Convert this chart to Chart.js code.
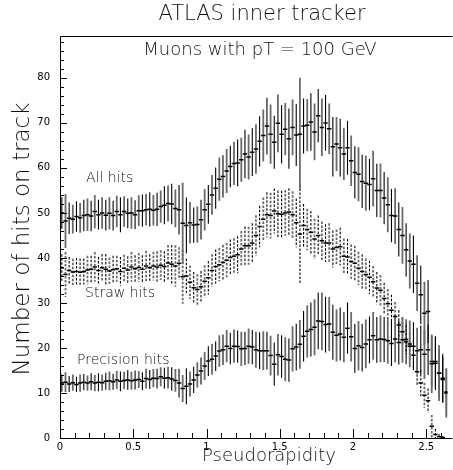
<!DOCTYPE html>
<html>
<head>
<meta charset="utf-8">
<script src="https://cdn.jsdelivr.net/npm/chart.js@4.4.1/dist/chart.umd.min.js"></script>
<style>
  html, body { margin: 0; padding: 0; background: #fff; overflow: hidden; }
  #wrap { width: 453px; height: 470px; }
</style>
</head>
<body>
<div id="wrap"><canvas id="grafico" width="453" height="470"></canvas></div>
<script>
// pseudorapidity bin centres
const eta = [
  0.0125,0.0375,0.0625,0.0875,0.1125,0.1375,0.1625,0.1875,0.2125,0.2375,
  0.2625,0.2875,0.3125,0.3375,0.3625,0.3875,0.4125,0.4375,0.4625,0.4875,
  0.5125,0.5375,0.5625,0.5875,0.6125,0.6375,0.6625,0.6875,0.7125,0.7375,
  0.7625,0.7875,0.8125,0.8375,0.8625,0.8875,0.9125,0.9375,0.9625,0.9875,
  1.0125,1.0375,1.0625,1.0875,1.1125,1.1375,1.1625,1.1875,1.2125,1.2375,
  1.2625,1.2875,1.3125,1.3375,1.3625,1.3875,1.4125,1.4375,1.4625,1.4875,
  1.5125,1.5375,1.5625,1.5875,1.6125,1.6375,1.6625,1.6875,1.7125,1.7375,
  1.7625,1.7875,1.8125,1.8375,1.8625,1.8875,1.9125,1.9375,1.9625,1.9875,
  2.0125,2.0375,2.0625,2.0875,2.1125,2.1375,2.1625,2.1875,2.2125,2.2375,
  2.2625,2.2875,2.3125,2.3375,2.3625,2.3875,2.4125,2.4375,2.4625,2.4875,
  2.5125,2.5375,2.5625,2.5875,2.6125,2.6375
];

const allHits = [
  50.0,48.2,48.8,48.6,49.2,48.9,49.4,49.6,49.3,50.3,
  49.6,50.0,49.5,49.9,49.4,50.3,49.6,50.3,49.9,50.0,
  49.6,50.5,50.5,50.7,50.8,50.6,50.8,51.4,51.7,52.1,
  52.0,51.0,50.7,47.7,47.2,47.8,47.3,47.4,48.5,50.7,
  51.9,54.0,55.5,57.5,58.1,59.3,60.3,61.0,61.1,61.8,
  63.1,62.4,63.5,64.2,65.9,67.2,69.3,67.5,65.7,69.9,
  67.5,68.6,66.5,69.0,67.3,67.5,69.3,69.5,70.2,68.0,
  71.6,69.0,70.0,68.7,64.7,65.3,64.5,63.1,64.5,61.6,
  59.0,58.6,57.0,56.6,56.3,57.6,55.0,55.0,53.3,51.8,
  49.4,49.3,46.3,45.0,41.8,39.3,38.6,34.4,31.8,27.7,
  28.1,16.5,16.6,14.4,13.3,10.0
];
const allErr = [
  3.5,6.0,3.5,3.2,3.4,3.3,3.5,3.6,3.4,3.7,
  3.3,3.5,3.4,3.6,3.3,3.5,3.9,3.4,3.3,3.5,
  3.2,3.4,3.6,3.5,3.8,3.4,3.7,3.6,4.2,4.0,
  4.5,4.2,5.5,9.0,6.2,4.6,3.9,4.0,4.4,4.6,
  4.3,4.4,4.6,4.8,4.7,4.9,4.6,4.8,5.2,4.9,
  5.4,5.0,5.3,5.5,5.6,5.8,6.3,6.6,5.9,6.4,
  6.5,5.8,6.7,6.2,6.9,12.5,6.1,5.8,6.4,6.3,
  5.9,6.4,6.2,5.6,6.6,6.0,6.4,5.8,6.0,5.6,
  5.8,6.0,5.9,6.1,5.7,6.2,5.9,6.0,5.8,6.1,
  5.9,6.2,6.0,6.3,5.9,6.1,6.4,6.2,6.5,7.0,
  7.0,6.5,6.0,6.2,5.4,5.5
];

const strawHits = [
  37.8,36.3,37.2,36.9,37.0,36.8,37.0,37.3,37.5,38.0,
  37.2,37.8,37.5,37.1,37.4,37.6,37.0,37.7,37.3,38.0,
  37.6,37.9,37.5,38.2,37.8,38.2,38.0,38.4,38.1,38.9,
  38.6,38.2,38.8,35.8,36.0,34.6,33.4,33.0,33.6,34.8,
  35.6,37.2,38.1,38.5,39.0,39.5,40.1,40.4,40.7,42.0,
  42.7,42.7,43.3,45.0,47.0,48.6,49.6,49.4,50.4,49.8,
  49.7,50.0,50.2,49.6,47.8,45.3,47.2,46.3,45.7,44.2,
  45.0,43.8,43.3,43.3,42.0,42.3,42.5,40.4,40.2,39.2,
  38.8,37.7,37.0,36.3,35.7,34.7,33.3,32.8,31.0,29.8,
  28.4,27.0,25.1,23.6,21.9,20.4,18.4,14.7,12.2,9.5,
  8.3,2.6,0.8,0.3,0.1,null
];
const strawErr = [
  3.0,5.0,3.0,2.9,3.0,3.1,2.9,3.2,3.0,3.3,
  3.0,3.1,3.4,3.0,3.1,2.9,3.2,3.0,3.1,3.3,
  3.0,3.2,3.1,3.4,3.0,3.2,3.5,3.3,3.4,4.0,
  4.3,4.6,3.6,6.0,3.8,3.7,3.5,3.4,3.5,3.6,
  3.7,3.6,3.8,3.7,3.9,3.8,4.0,4.0,4.1,4.0,
  4.3,4.2,4.4,4.5,4.6,4.8,5.0,5.1,5.0,5.2,
  5.2,5.1,5.3,5.2,5.4,11.0,4.8,4.6,4.7,4.5,
  4.4,4.3,4.2,4.4,4.1,4.0,4.2,3.9,4.0,3.8,
  3.9,3.7,3.8,3.6,3.7,3.5,3.6,3.4,3.5,3.3,
  3.4,3.2,3.3,3.1,3.2,3.0,3.2,3.0,2.9,2.8,
  2.7,2.5,1.2,0.6,0.3,null
];

const precisionHits = [
  12.2,12.4,12.0,12.3,11.9,12.2,12.4,12.2,12.5,12.2,
  12.4,12.3,12.6,12.7,12.5,12.9,12.6,12.8,12.9,12.7,
  12.9,13.0,12.6,13.2,13.0,13.3,13.2,13.6,13.3,13.4,
  13.1,12.8,12.2,11.0,11.5,12.0,12.9,14.0,14.9,16.0,
  17.1,17.5,18.2,19.3,19.6,20.4,19.9,20.4,20.3,19.8,
  19.9,20.4,20.2,19.6,19.4,19.4,19.4,18.3,16.4,18.5,
  18.1,17.5,17.3,19.8,20.2,20.8,22.6,23.7,24.1,24.6,
  26.0,25.9,25.2,25.3,23.5,22.8,23.1,22.4,24.4,22.5,
  19.9,20.5,20.1,20.9,21.8,22.7,21.8,22.0,21.9,21.6,
  21.0,22.0,21.2,21.8,21.4,20.9,20.4,19.4,19.6,18.6,
  19.6,17.0,17.0,14.4,13.0,10.2
];
const precisionErr = [
  1.9,2.2,1.8,1.8,1.7,1.9,1.8,1.7,1.9,1.8,
  2.0,1.8,1.9,2.1,1.8,2.0,2.2,1.9,2.2,2.0,
  2.1,1.9,2.0,2.2,2.1,2.0,2.2,2.1,2.3,2.4,
  2.6,2.5,3.2,3.0,4.0,2.8,2.9,2.8,3.0,3.1,
  3.3,3.4,3.3,3.5,3.4,3.6,3.5,3.7,3.6,3.8,
  3.7,3.9,3.8,4.0,4.1,4.3,4.2,4.4,4.8,4.6,
  4.7,4.9,4.8,5.0,5.2,5.4,5.6,5.8,6.0,6.2,
  6.3,6.4,6.2,6.0,6.1,5.8,5.9,5.6,5.7,5.5,
  5.4,5.5,5.3,5.4,5.2,5.3,5.1,5.2,5.0,5.1,
  5.0,5.2,4.9,5.1,5.0,5.2,5.3,5.1,5.4,5.5,
  5.6,5.5,5.4,5.3,5.1,5.2
];

const series = [
  { nombre: 'All hits', valores: allHits, errores: allErr, dash: [] },
  { nombre: 'Straw hits', valores: strawHits, errores: strawErr, dash: [2.5, 1.5] },
  { nombre: 'Precision hits', valores: precisionHits, errores: precisionErr, dash: [] }
];

const xTickLabels = ['0', '0.5', '1', '1.5', '2', '2.5'];
const FONT = '"DejaVu Sans", sans-serif';

function puntos(valores) {
  const res = [];
  valores.forEach((v, i) => { if (v !== null) res.push({ x: eta[i], y: v }); });
  return res;
}

// barras de error verticales, dibujadas con las escalas del grafico
const barrasError = {
  id: 'barrasError',
  beforeDatasetsDraw(chart) {
    const { ctx, chartArea: a, scales: { x, y } } = chart;
    ctx.save();
    ctx.beginPath();
    ctx.rect(a.left, a.top, a.right - a.left, a.bottom - a.top);
    ctx.clip();
    series.forEach(s => {
      ctx.setLineDash(s.dash);
      s.valores.forEach((v, i) => {
        if (v === null) return;
        const e = s.errores[i];
        const px = x.getPixelForValue(eta[i]);
        ctx.beginPath();
        ctx.strokeStyle = i % 2 ? '#6a6a6a' : '#000';
        ctx.lineWidth = i % 2 ? 1.8 : 1.1;
        ctx.moveTo(px, y.getPixelForValue(v + e));
        ctx.lineTo(px, y.getPixelForValue(v - e));
        ctx.stroke();
      });
    });
    ctx.restore();
  }
};

// marco, marcas de ejes y textos
const marco = {
  id: 'marco',
  afterDraw(chart) {
    const { ctx, chartArea: a, scales: { x, y } } = chart;
    ctx.save();
    ctx.strokeStyle = '#000';
    ctx.lineWidth = 1;
    ctx.setLineDash([]);
    ctx.beginPath();
    ctx.moveTo(a.right + 5, a.top + 0.5);
    ctx.lineTo(a.left + 0.5, a.top + 0.5);
    ctx.lineTo(a.left + 0.5, a.bottom + 0.5);
    ctx.lineTo(a.right + 5, a.bottom + 0.5);
    ctx.stroke();

    ctx.beginPath();
    for (let v = 0; v <= 88; v += 2) {
      const py = Math.round(y.getPixelForValue(v)) + 0.5;
      const len = v % 10 === 0 ? 7 : 4;
      ctx.moveTo(a.left, py);
      ctx.lineTo(a.left + len, py);
    }
    for (let k = 0; k <= 26; k++) {
      const px = Math.round(x.getPixelForValue(k / 10)) + 0.5;
      const len = k % 5 === 0 ? 9 : 5;
      ctx.moveTo(px, a.bottom);
      ctx.lineTo(px, a.bottom - len);
    }
    ctx.stroke();

    ctx.fillStyle = '#111';
    ctx.textBaseline = 'middle';
    ctx.textAlign = 'center';
    ctx.font = '200 21px ' + FONT;
    ctx.fillText('ATLAS inner tracker', 262, 15);
    ctx.font = '200 18px ' + FONT;
    ctx.fillText('Muons with pT = 100 GeV', 260, 50);
    ctx.textBaseline = 'alphabetic';
    ctx.fillText('Pseudorapidity', 269, 461);

    ctx.save();
    ctx.translate(29, 239);
    ctx.rotate(-Math.PI / 2);
    ctx.font = '200 23px ' + FONT;
    ctx.fillText('Number of hits on track', 0, 0);
    ctx.restore();

    ctx.textAlign = 'left';
    ctx.textBaseline = 'middle';
    ctx.font = '200 14px ' + FONT;
    ctx.fillText('All hits', 86, 178);
    ctx.fillText('Straw hits', 85, 293);
    ctx.fillText('Precision hits', 77, 360);
    ctx.restore();
  }
};

new Chart(document.getElementById('grafico'), {
  type: 'scatter',
  data: {
    datasets: series.map(s => ({
      label: s.nombre,
      data: puntos(s.valores),
      pointStyle: 'line',
      pointRadius: 2.2,
      pointBorderWidth: 1.5,
      pointBorderColor: '#000',
      pointBackgroundColor: '#000',
      showLine: false
    }))
  },
  options: {
    responsive: false,
    animation: false,
    devicePixelRatio: 1,
    layout: { padding: { top: 36, left: 0, right: 0, bottom: 0 } },
    plugins: {
      legend: { display: false },
      title: { display: false },
      tooltip: { enabled: false }
    },
    scales: {
      x: {
        type: 'linear',
        min: 0,
        max: 2.645,
        grid: { display: false, drawTicks: false },
        border: { display: false },
        ticks: {
          stepSize: 0.5,
          includeBounds: false,
          maxRotation: 0,
          autoSkip: false,
          padding: 3,
          color: '#000',
          font: { family: FONT, size: 10 },
          callback: (v) => xTickLabels[Math.round(v * 2)]
        },
        afterFit: (s) => { s.height = 32; }
      },
      y: {
        min: 0,
        max: 89.3,
        grid: { display: false, drawTicks: false },
        border: { display: false },
        ticks: {
          stepSize: 10,
          includeBounds: false,
          padding: 10,
          color: '#000',
          font: { family: FONT, size: 10 }
        },
        afterFit: (s) => { s.width = 60; }
      }
    }
  },
  plugins: [barrasError, marco]
});
</script>
</body>
</html>
